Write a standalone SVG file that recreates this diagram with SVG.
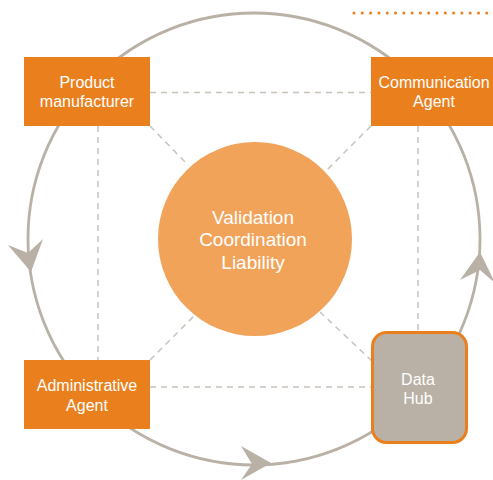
<svg xmlns="http://www.w3.org/2000/svg" width="493" height="480" viewBox="0 0 493 480">
<style>
text{font-family:"Liberation Sans",Arial,sans-serif;text-anchor:middle;fill:#fff}
.n{font-size:16px}
.c{font-size:19px}
.b{fill:#ea7f1e}
.d{fill:none;stroke:#c9c3ba;stroke-width:1.5;stroke-dasharray:6 5}
.a{fill:#b9b1a5}
</style>
<rect width="493" height="480" fill="#fff"/>
<path d="M354 13H492" fill="none" stroke="#ea7f1e" stroke-width="3" stroke-linecap="round" stroke-dasharray="0 8.3"/>
<g id="connectors">
<circle cx="254" cy="239" r="226" fill="none" stroke="#b9b1a5" stroke-width="2.800"/>
<path class="d" d="M150 92.500H371M150 387H372M98 126V360M418 126V332M150 126L188 165M371 126L327 170M150 360L195 315M372 361L320 312"/>
<path class="a" d="M31 272L8 245L28 253L43 239Z"/>
<path class="a" d="M480 252L460 280L480 270L495 283Z"/>
<path class="a" d="M271 463L241 446L252 464L241 480Z"/>
</g>
<g id="product"><rect class="b" x="24" y="57" width="126" height="69"/><text class="n" x="87" y="88">Product</text><text class="n" x="87" y="107">manufacturer</text></g>
<g id="communication"><rect class="b" x="371" y="57" width="122" height="69"/><text class="n" x="434" y="88">Communication</text><text class="n" x="434" y="107">Agent</text></g>
<g id="administrative"><rect class="b" x="24" y="360" width="126" height="69"/><text class="n" x="87" y="391">Administrative</text><text class="n" x="87" y="411">Agent</text></g>
<g id="hub"><rect x="372.500" y="332.500" width="94" height="110" rx="14" fill="#b9b1a5" stroke="#ea7f1e" stroke-width="3"/><text class="n" x="418" y="385">Data</text><text class="n" x="418" y="404">Hub</text></g>
<g id="center"><circle cx="255" cy="239" r="97" fill="#f2a35a"/><text class="c" x="253" y="224">Validation</text><text class="c" x="253" y="246">Coordination</text><text class="c" x="253" y="269">Liability</text></g>
</svg>
